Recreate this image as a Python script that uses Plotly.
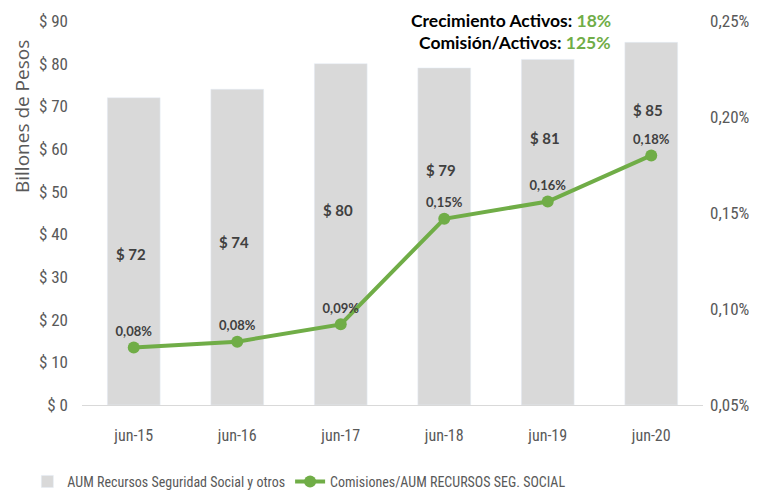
import plotly.graph_objects as go

categories = ["jun-15", "jun-16", "jun-17", "jun-18", "jun-19", "jun-20"]
aum_values = [72, 74, 80, 79, 81, 85]
aum_labels = ["$ 72", "$ 74", "$ 80", "$ 79", "$ 81", "$ 85"]
comision_values = [0.080, 0.083, 0.092, 0.147, 0.156, 0.180]
comision_labels = ["0,08%", "0,08%", "0,09%", "0,15%", "0,16%", "0,18%"]
left_ticks = [0, 10, 20, 30, 40, 50, 60, 70, 80, 90]
left_ticktext = ["$ 0", "$ 10", "$ 20", "$ 30", "$ 40", "$ 50", "$ 60", "$ 70", "$ 80", "$ 90"]
right_ticks = [0.05, 0.10, 0.15, 0.20, 0.25]
right_ticktext = ["0,05%", "0,10%", "0,15%", "0,20%", "0,25%"]

# label placement (styling, in left-axis units)
aum_label_y = [35.5, 38.2, 45.7, 55.1, 62.6, 69.2]

FONT = "Roboto Condensed, Lato"
BFONT = "Lato"
GREY = "#595959"
DARK = "#404040"
GREEN = "#70ad47"

# page body has an 8px margin: figure is drawn 8px in from the top-left
W, H = 751, 486
L, T, R, B = 74, 13, 56, 89

fig = go.Figure()
fig.add_trace(go.Bar(
    x=categories, y=aum_values, name="AUM Recursos Seguridad Social y otros",
    marker=dict(color="#d9d9d9"), width=0.51, yaxis="y",
))
fig.add_trace(go.Scatter(
    x=categories, y=comision_values, name="Comisiones/AUM RECURSOS SEG. SOCIAL",
    mode="lines+markers+text", yaxis="y2",
    line=dict(color=GREEN, width=4), marker=dict(color=GREEN, size=12),
    text=comision_labels, textposition="top center",
    textfont=dict(family=BFONT, size=13, color=DARK, weight="bold"),
))

for c, lab, ly in zip(categories, aum_labels, aum_label_y):
    fig.add_annotation(x=c, y=ly, xref="x", yref="y", text=lab, showarrow=False,
                       xshift=-3,
                       font=dict(family=BFONT, size=15, color=DARK, weight="bold"))

fig.add_annotation(
    x=0.855, y=1.033, xref="paper", yref="paper", xanchor="right", yanchor="top",
    showarrow=False, align="right",
    text="<b>Crecimiento Activos: <span style='color:#70ad47'>18%</span></b>",
    font=dict(family=BFONT, size=17.5, color="black"))
fig.add_annotation(
    x=0.855, y=0.945, xref="paper", yref="paper", xanchor="right", yanchor="middle",
    showarrow=False, align="right",
    text="<b>Comisión/Activos: <span style='color:#70ad47'>125%</span></b>",
    font=dict(family=BFONT, size=17.5, color="black"))
fig.add_annotation(
    x=-0.0966, y=0.75, xref="paper", yref="paper", textangle=-90, showarrow=False,
    xanchor="center", yanchor="middle", text="Billones de Pesos",
    font=dict(family="Open Sans", size=19, color=GREY))

fig.update_layout(
    width=W, height=H,
    margin=dict(l=L, r=R, t=T, b=B, autoexpand=False),
    plot_bgcolor="white", paper_bgcolor="white",
    font=dict(family=FONT, color=GREY, size=15),
    xaxis=dict(showline=True, linecolor="#d9d9d9", linewidth=1, ticks="",
               ticklabelstandoff=16,
               tickfont=dict(size=16, color=GREY), showgrid=False, automargin=False),
    yaxis=dict(range=[0, 90], tickvals=left_ticks, ticktext=left_ticktext,
               showgrid=False, automargin=False, ticklabelstandoff=13,
               zeroline=False, showline=False, tickfont=dict(size=17, color=GREY)),
    yaxis2=dict(range=[0.05, 0.25], tickvals=right_ticks, ticktext=right_ticktext,
                overlaying="y", side="right", showgrid=False, automargin=False,
                ticklabelstandoff=6,
                zeroline=False, showline=False, tickfont=dict(size=17, color=GREY)),
    legend=dict(orientation="h", x=-0.088, xanchor="left", y=-0.2, yanchor="middle",
                font=dict(size=14, color=GREY), itemwidth=30),
    showlegend=True,
)

fig.write_html("out.html")
